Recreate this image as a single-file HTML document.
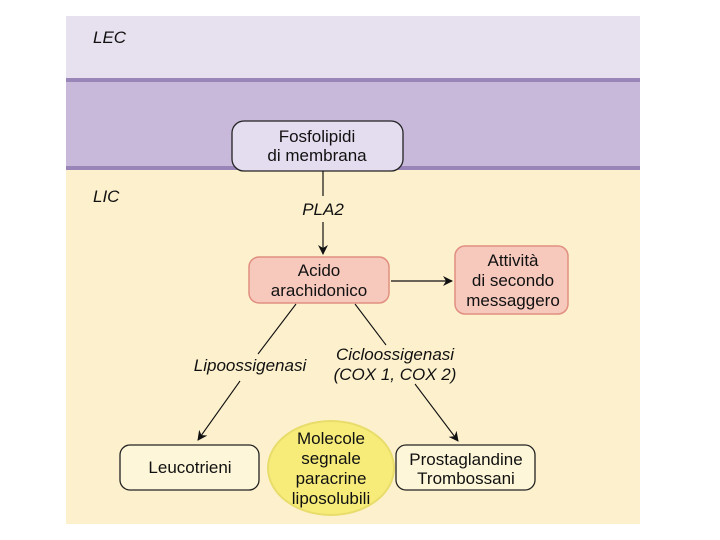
<!DOCTYPE html>
<html><head><style>
body{margin:0;width:720px;height:540px;background:#fff;position:relative;overflow:hidden;font-family:"Liberation Sans",sans-serif}
</style></head><body>
<svg width="720" height="540" style="position:absolute;left:0;top:0" font-family="Liberation Sans, sans-serif">
<defs><marker id="a" markerWidth="10" markerHeight="10" refX="9" refY="5" orient="auto" markerUnits="userSpaceOnUse"><path d="M0,0 L10,5 L0,10 L3,5 Z" fill="#111"/></marker></defs>
<rect x="66" y="16" width="574" height="508" fill="#fdf1cd"/>
<rect x="66" y="16" width="574" height="63" fill="#e7e0ee"/>
<rect x="66" y="79" width="574" height="90" fill="#c8b9da"/>
<rect x="66" y="78" width="574" height="4" fill="#9a85b8"/>
<rect x="66" y="166" width="574" height="4" fill="#9a85b8"/>
<text x="93" y="43" font-size="17" font-style="italic" fill="#111">LEC</text>
<text x="93" y="202" font-size="17" font-style="italic" fill="#111">LIC</text>
<rect x="232" y="121" width="171" height="50" rx="12" fill="#e4dcef" stroke="#222" stroke-width="1.3"/>
<text x="317" y="142" font-size="17" text-anchor="middle" fill="#111">Fosfolipidi</text>
<text x="317" y="161" font-size="17" text-anchor="middle" fill="#111">di membrana</text>
<line x1="323" y1="171" x2="323" y2="196" stroke="#111" stroke-width="1.2"/>
<text x="323" y="215" font-size="17" font-style="italic" text-anchor="middle" fill="#111">PLA2</text>
<line x1="323" y1="222" x2="323" y2="254" stroke="#111" stroke-width="1.2" marker-end="url(#a)"/>
<rect x="249" y="257" width="140" height="46" rx="10" fill="#f7c9bd" stroke="#e08f80" stroke-width="1.5"/>
<text x="319" y="276" font-size="17" text-anchor="middle" fill="#111">Acido</text>
<text x="319" y="296" font-size="17" text-anchor="middle" fill="#111">arachidonico</text>
<line x1="391" y1="281" x2="452" y2="281" stroke="#111" stroke-width="1.2" marker-end="url(#a)"/>
<rect x="455" y="246" width="113" height="68" rx="10" fill="#f7c9bd" stroke="#e08f80" stroke-width="1.5"/>
<text x="513" y="266" font-size="17" text-anchor="middle" fill="#111">Attività</text>
<text x="513" y="286" font-size="17" text-anchor="middle" fill="#111">di secondo</text>
<text x="513" y="306" font-size="17" text-anchor="middle" fill="#111">messaggero</text>
<line x1="296" y1="304" x2="258" y2="354" stroke="#111" stroke-width="1.1"/>
<text x="250" y="371" font-size="17" font-style="italic" text-anchor="middle" fill="#111">Lipoossigenasi</text>
<line x1="240" y1="381" x2="198" y2="440" stroke="#111" stroke-width="1.1" marker-end="url(#a)"/>
<line x1="355" y1="304" x2="386" y2="345" stroke="#111" stroke-width="1.1"/>
<text x="395" y="360" font-size="17" font-style="italic" text-anchor="middle" fill="#111">Cicloossigenasi</text>
<text x="395" y="380" font-size="17" font-style="italic" text-anchor="middle" fill="#111">(COX 1, COX 2)</text>
<line x1="415" y1="384" x2="458" y2="441" stroke="#111" stroke-width="1.1" marker-end="url(#a)"/>
<rect x="120" y="445" width="139" height="45" rx="10" fill="#fdf6d8" stroke="#222" stroke-width="1.3"/>
<text x="190" y="473" font-size="17" text-anchor="middle" fill="#111">Leucotrieni</text>
<ellipse cx="331" cy="468" rx="63" ry="47" fill="#f7ec7a" stroke="#e8dc6a" stroke-width="2"/>
<text x="331" y="444" font-size="17" text-anchor="middle" fill="#111">Molecole</text>
<text x="331" y="464" font-size="17" text-anchor="middle" fill="#111">segnale</text>
<text x="331" y="484" font-size="17" text-anchor="middle" fill="#111">paracrine</text>
<text x="331" y="504" font-size="17" text-anchor="middle" fill="#111">liposolubili</text>
<rect x="396" y="445" width="139" height="45" rx="10" fill="#fdf6d8" stroke="#222" stroke-width="1.3"/>
<text x="466" y="465" font-size="17" text-anchor="middle" fill="#111">Prostaglandine</text>
<text x="466" y="484" font-size="17" text-anchor="middle" fill="#111">Trombossani</text>
</svg>
</body></html>
